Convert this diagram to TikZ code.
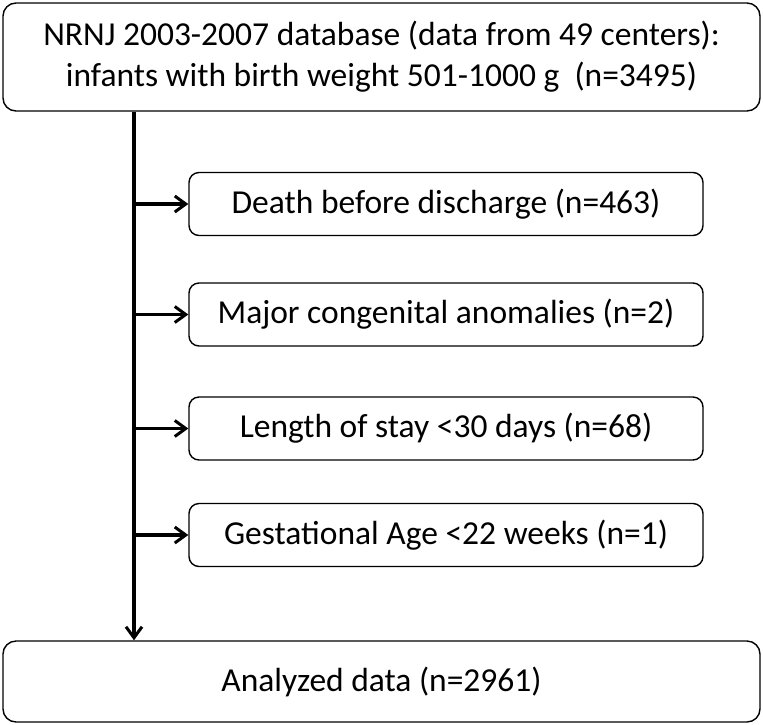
\documentclass[tikz,border=0pt]{standalone}
\usepackage{fontspec}
\setmainfont{Carlito}
\usetikzlibrary{arrows.meta,positioning}
\begin{document}
\begin{tikzpicture}[x=1pt,y=-1pt,
  bigbox/.style={draw, line width=1.4pt, rounded corners=13pt, minimum width=757pt, inner sep=0pt, align=center, font=\fontsize{33.5}{41}\selectfont},
  sidebox/.style={draw, line width=1.4pt, rounded corners=10pt, minimum width=514pt, minimum height=63pt, inner sep=0pt, align=center, font=\fontsize{33.5}{41}\selectfont},
  flow/.style={line width=3.4pt, -{Straight Barb[length=11pt,width=16pt,line width=3pt]}}]
\useasboundingbox (0,0) rectangle (763,724);
\node[bigbox, minimum height=108pt] (top) at (381.5,57) {NRNJ 2003-2007 database (data from 49 centers):\\infants with birth weight 501-1000 g\ \ (n=3495)};
\node[bigbox, minimum height=81pt] (bot) at (381.5,681.5) {Analyzed data (n=2961)};
\node[sidebox] (b1) at (446,204) {Death before discharge (n=463)};
\node[sidebox] (b2) at (446,314.5) {Major congenital anomalies (n=2)};
\node[sidebox] (b3) at (446,428.5) {Length of stay <30 days (n=68)};
\node[sidebox] (b4) at (446,535) {Gestational Age <22 weeks (n=1)};
\coordinate (vx) at (134,0);
\draw[flow] (top.south -| vx) -- (bot.north -| vx);
\draw[flow] (vx |- b1.west) -- (b1.west);
\draw[flow] (vx |- b2.west) -- (b2.west);
\draw[flow] (vx |- b3.west) -- (b3.west);
\draw[flow] (vx |- b4.west) -- (b4.west);
\end{tikzpicture}
\end{document}
